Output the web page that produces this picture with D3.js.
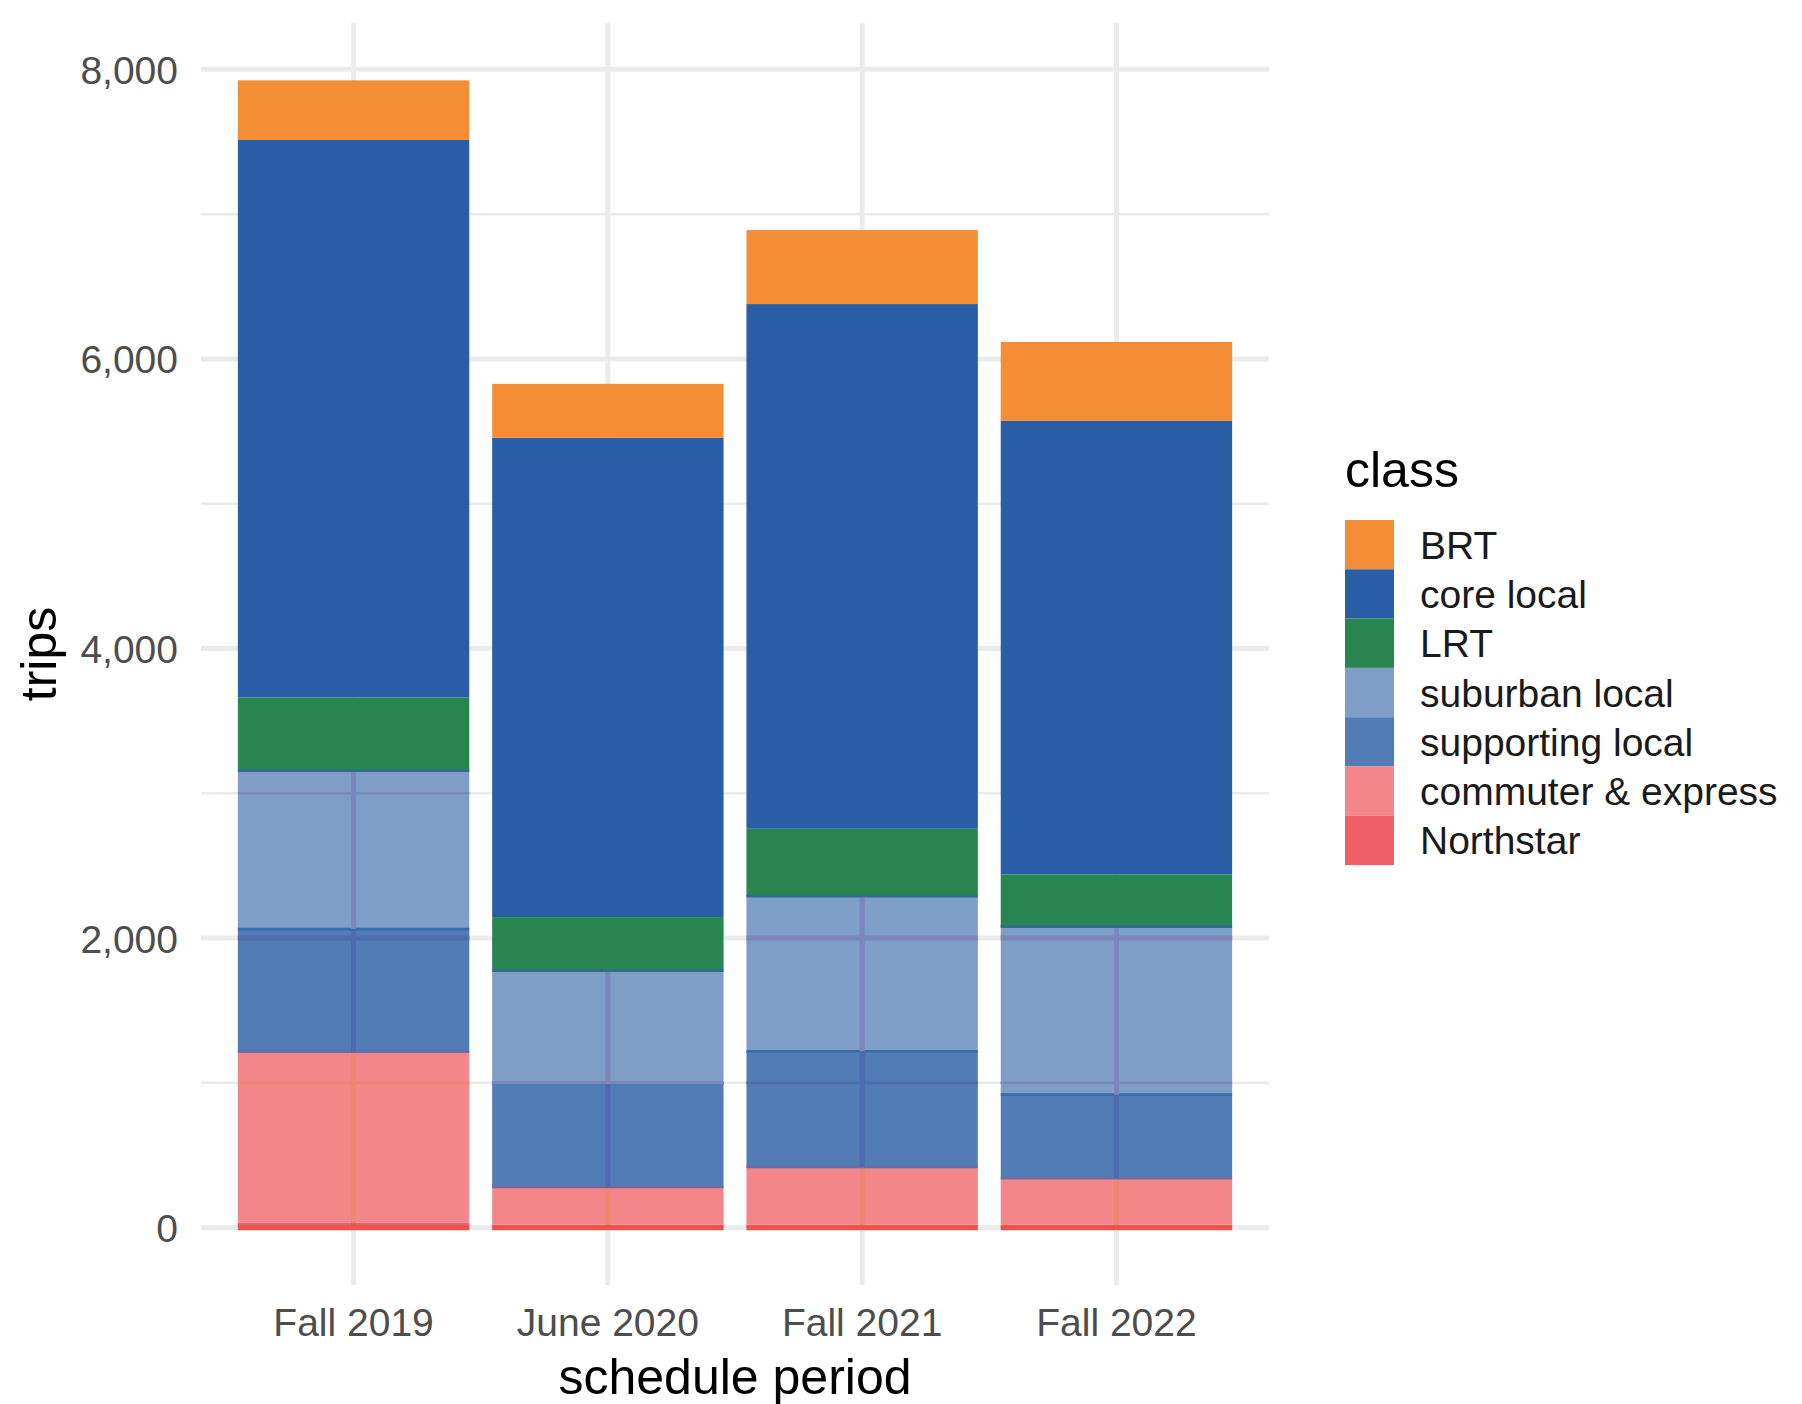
<!DOCTYPE html>
<html>
<head>
<meta charset="utf-8">
<script src="https://cdn.jsdelivr.net/npm/d3@7"></script>
<style>
  body { margin: 0; background: #fff; }
  text { font-family: "Liberation Sans", Arial, sans-serif; }
</style>
</head>
<body>
<script>
// schedule periods along x
var periods = ["Fall 2019", "June 2020", "Fall 2021", "Fall 2022"];

// trips per class, one value per period
var northstar   = [35, 20, 20, 20];
var commuter    = [1180, 262, 400, 322];
var supporting  = [847, 716, 798, 576];
var suburban    = [1095, 777, 1072, 1162];
var lrt         = [505, 370, 465, 360];
var coreLocal   = [3850, 3310, 3624, 3132];
var brt         = [412, 373, 511, 545];

// legend order (top of the stack first)
var classes = ["BRT", "core local", "LRT", "suburban local", "supporting local", "commuter & express", "Northstar"];
var classColors = ["#F58D36", "#275EA6", "#298550", "#7E9EC8", "#527CB6", "#F4868A", "#F05E68"];

var yTicks = [0, 2000, 4000, 6000, 8000];
var yMinor = [1000, 3000, 5000, 7000];

// the lighter classes let the grid show through and get a darker edge on top
var gridTint = {"suburban local": "#7B86BD", "supporting local": "#4E6BB0",
                "commuter & express": "#EE8670", "Northstar": "#EA5548"};
var edgeColor = {"suburban local": "#2B6E8E", "supporting local": "#3B6AAE",
                 "commuter & express": "#6A6CA8"};

var seriesByClass = {
  "BRT": brt, "core local": coreLocal, "LRT": lrt, "suburban local": suburban,
  "supporting local": supporting, "commuter & express": commuter, "Northstar": northstar
};

var rows = periods.map(function(p, i) {
  var r = {period: p};
  classes.forEach(function(c) { r[c] = seriesByClass[c][i]; });
  return r;
});

var stackKeys = classes.slice().reverse();
var stacked = d3.stack().keys(stackKeys)(rows);
var maxTotal = d3.max(rows, function(r) { return d3.sum(classes, function(c) { return r[c]; }); });

var colour = d3.scaleOrdinal().domain(classes).range(classColors);

var svg = d3.select("body").append("svg")
    .attr("width", 1802)
    .attr("height", 1404);

var panelL = 201, panelR = 1269, panelT = 23, panelB = 1285;

var x = d3.scaleBand()
    .domain(periods)
    .range([panelL, panelR])
    .paddingInner(0.09)
    .paddingOuter(0.145);

var y = d3.scaleLinear()
    .domain([-0.05 * maxTotal, 1.05 * maxTotal])
    .range([panelB, panelT]);

var grid = svg.append("g");

grid.selectAll(".minor")
    .data(yMinor)
  .enter().append("line")
    .attr("x1", panelL).attr("x2", panelR)
    .attr("y1", function(d) { return y(d); })
    .attr("y2", function(d) { return y(d); })
    .attr("stroke", "#EBEBEB")
    .attr("stroke-width", 2.6);

grid.selectAll(".major")
    .data(yTicks)
  .enter().append("line")
    .attr("x1", panelL).attr("x2", panelR)
    .attr("y1", function(d) { return y(d); })
    .attr("y2", function(d) { return y(d); })
    .attr("stroke", "#EBEBEB")
    .attr("stroke-width", 5);

grid.selectAll(".vert")
    .data(periods)
  .enter().append("line")
    .attr("x1", function(d) { return x(d) + x.bandwidth() / 2; })
    .attr("x2", function(d) { return x(d) + x.bandwidth() / 2; })
    .attr("y1", panelT).attr("y2", panelB)
    .attr("stroke", "#EBEBEB")
    .attr("stroke-width", 5);

// bars
var layers = svg.selectAll(".layer")
    .data(stacked)
  .enter().append("g")
    .attr("fill", function(d) { return colour(d.key); });

layers.selectAll("rect")
    .data(function(d) { return d; })
  .enter().append("rect")
    .attr("x", function(d) { return x(d.data.period); })
    .attr("width", x.bandwidth())
    .attr("y", function(d) { return y(d[1]); })
    .attr("height", function(d) { return y(d[0]) - y(d[1]); });

// grid showing through the lighter segments
stacked.forEach(function(layer) {
  var tint = gridTint[layer.key];
  if (!tint) return;
  var g = svg.append("g").attr("stroke", tint);
  layer.forEach(function(d) {
    var x0 = x(d.data.period), x1 = x0 + x.bandwidth();
    var cx = x0 + x.bandwidth() / 2;
    g.append("line")
      .attr("x1", cx).attr("x2", cx)
      .attr("y1", y(d[1])).attr("y2", y(d[0]))
      .attr("stroke-width", 5);
    yTicks.concat(yMinor).forEach(function(t) {
      if (t < d[0] || t > d[1]) return;
      g.append("line")
        .attr("x1", x0).attr("x2", x1)
        .attr("y1", y(t)).attr("y2", y(t))
        .attr("stroke-width", yTicks.indexOf(t) >= 0 ? 5 : 2.6);
    });
  });
  var edge = edgeColor[layer.key];
  if (edge) {
    layer.forEach(function(d) {
      svg.append("line")
        .attr("x1", x(d.data.period)).attr("x2", x(d.data.period) + x.bandwidth())
        .attr("y1", y(d[1])).attr("y2", y(d[1]))
        .attr("stroke", edge)
        .attr("stroke-width", 2.8);
    });
  }
});

// y axis
var yAxis = svg.append("g")
    .attr("transform", "translate(" + (panelL - 23) + ",0)")
    .call(d3.axisLeft(y).tickValues(yTicks).tickSize(0).tickFormat(d3.format(",")));
yAxis.select(".domain").remove();
yAxis.selectAll("text")
    .attr("x", 0)
    .attr("dy", "0.36em")
    .attr("fill", "#4D4D4D")
    .style("font-size", "39px")
    .style("font-family", "'Liberation Sans', Arial, sans-serif");

// x axis
var xAxis = svg.append("g")
    .attr("transform", "translate(0," + panelB + ")")
    .call(d3.axisBottom(x).tickSize(0));
xAxis.select(".domain").remove();
xAxis.selectAll("text")
    .attr("y", 51)
    .attr("dy", 0)
    .attr("fill", "#4D4D4D")
    .style("font-size", "39px")
    .style("font-family", "'Liberation Sans', Arial, sans-serif");

// axis titles
svg.append("text")
    .attr("x", (panelL + panelR) / 2)
    .attr("y", 1394)
    .attr("text-anchor", "middle")
    .style("font-size", "50px")
    .attr("fill", "#000")
    .text("schedule period");

svg.append("text")
    .attr("transform", "translate(56," + ((panelT + panelB) / 2) + ") rotate(-90)")
    .attr("text-anchor", "middle")
    .style("font-size", "50px")
    .attr("fill", "#000")
    .text("trips");

// legend
var legend = svg.append("g").attr("transform", "translate(1345,0)");

legend.append("text")
    .attr("x", 0)
    .attr("y", 487)
    .style("font-size", "50px")
    .attr("fill", "#000")
    .text("class");

var keyH = 49.3;
var keys = legend.selectAll(".key")
    .data(classes)
  .enter().append("g")
    .attr("transform", function(d, i) { return "translate(0," + (520 + i * keyH) + ")"; });

keys.append("rect")
    .attr("width", 49)
    .attr("height", keyH)
    .attr("fill", function(d) { return colour(d); });

keys.append("text")
    .attr("x", 75)
    .attr("y", keyH / 2)
    .attr("dy", "0.36em")
    .style("font-size", "39px")
    .attr("fill", "#1A1A1A")
    .text(function(d) { return d; });
</script>
</body>
</html>
